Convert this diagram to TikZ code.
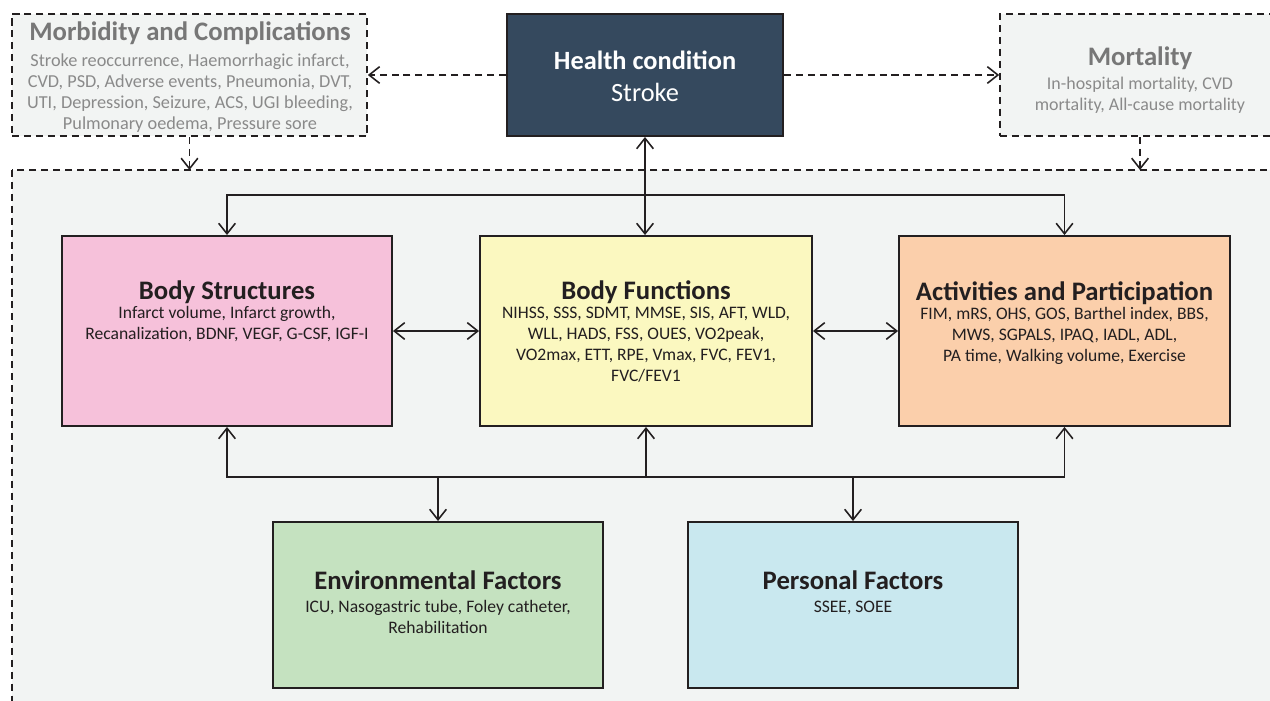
\documentclass[tikz,border=0pt]{standalone}
\usepackage{fontspec}
\setmainfont{Carlito}
\usetikzlibrary{arrows.meta}
\definecolor{panel}{HTML}{F2F4F3}
\definecolor{navy}{HTML}{35495E}
\definecolor{ink}{HTML}{231F20}
\definecolor{greyhead}{HTML}{777777}
\definecolor{greytext}{HTML}{8A8A8A}
\definecolor{pinkbox}{HTML}{F6C1DA}
\definecolor{yellowbox}{HTML}{FBF8C0}
\definecolor{orangebox}{HTML}{FBCFAB}
\definecolor{greenbox}{HTML}{C5E2C0}
\definecolor{bluebox}{HTML}{C9E8EF}
\newcommand{\boxhead}[1]{{\fontsize{15.2}{18}\selectfont\bfseries #1}}
\begin{document}
\begin{tikzpicture}[x=0.02cm, y=-0.02cm, line join=miter,
    >={Straight Barb[length=6pt, width=9.5pt]},
    panelbox/.style={draw=ink, fill=panel, line width=1pt, dash pattern=on 4pt off 2.8pt, inner sep=0pt},
    area/.style={draw=ink, line width=1.1pt, inner sep=0pt},
    link/.style={draw=ink, line width=0.9pt},
    dlink/.style={link, dash pattern=on 4pt off 2.8pt},
    txt/.style={inner sep=0pt, align=center, anchor=north, font=\fontsize{10}{11.9}\selectfont}]
  \useasboundingbox (0,0) rectangle (1270,700);
  \fill[white] (0,0) rectangle (1270,700);
  \clip (0,0) rectangle (1270,700);
  % outer frame
  \draw[panelbox] (12,170) rectangle (1290,720);
  \coordinate (frameL) at (189.5,170);
  \coordinate (frameR) at (1140,170);
  % top row
  \node[panelbox, minimum width=7.1cm, minimum height=2.44cm] (morb) at (189.5,75) {};
  \node[area, fill=navy, minimum width=5.52cm, minimum height=2.44cm] (hc) at (645,75) {};
  \node[panelbox, minimum width=5.6cm, minimum height=2.44cm] (mort) at (1140,75) {};
  \node[txt, text=greytext, font=\fontsize{10.4}{11.9}\selectfont] (morbT) at (190,21) {{\color{greyhead}\boxhead{Morbidity and Complications}}\\[3.2pt]
    Stroke reoccurrence, Haemorrhagic infarct,\\
    CVD, PSD, Adverse events, Pneumonia, DVT,\\
    UTI, Depression, Seizure, ACS, UGI bleeding,\\
    Pulmonary oedema, Pressure sore};
  \node[txt, text=white, font=\fontsize{15}{17.8}\selectfont] (hcT) at (645,51) {\textbf{Health condition}\\Stroke};
  \node[txt, text=greytext, font=\fontsize{10.2}{11.9}\selectfont] (mortT) at (1140,46) {{\color{greyhead}\boxhead{Mortality}}\\[1.8pt]
    In-hospital mortality, CVD\\
    mortality, All-cause mortality};
  % components
  \node[area, fill=pinkbox, minimum width=6.6cm, minimum height=3.8cm] (bs) at (227,331) {};
  \node[area, fill=yellowbox, minimum width=6.64cm, minimum height=3.8cm] (bf) at (646,331) {};
  \node[area, fill=orangebox, minimum width=6.62cm, minimum height=3.8cm] (ap) at (1064.5,331) {};
  \node[area, fill=greenbox, minimum width=6.6cm, minimum height=3.32cm] (env) at (438,605) {};
  \node[area, fill=bluebox, minimum width=6.6cm, minimum height=3.32cm] (pf) at (853,605) {};
  \node[txt, text=ink] (bsT) at (227,280) {\boxhead{Body Structures}\\[-1pt]
    Infarct volume, Infarct growth,\\
    Recanalization, BDNF, VEGF, G-CSF, IGF-I};
  \node[txt, text=ink] (bfT) at (646,280) {\boxhead{Body Functions}\\[-1pt]
    NIHSS, SSS, SDMT, MMSE, SIS, AFT, WLD,\\
    WLL, HADS, FSS, OUES, VO2peak,\\
    VO2max, ETT, RPE, Vmax, FVC, FEV1,\\
    FVC/FEV1};
  \node[txt, text=ink] (apT) at (1064.5,281) {\boxhead{Activities and Participation}\\[-1pt]
    FIM, mRS, OHS, GOS, Barthel index, BBS,\\
    MWS, SGPALS, IPAQ, IADL, ADL,\\
    PA time, Walking volume, Exercise};
  \node[txt, text=ink] (envT) at (438,570) {\boxhead{Environmental Factors}\\[1.5pt]
    ICU, Nasogastric tube, Foley catheter,\\
    Rehabilitation};
  \node[txt, text=ink] (pfT) at (853,570) {\boxhead{Personal Factors}\\[1.5pt]
    SSEE, SOEE};
  % dashed links
  \draw[dlink, ->] (hc.west) -- (morb.east);
  \draw[dlink, ->] (hc.east) -- (mort.west);
  \draw[dlink, ->] (morb.south) -- (frameL);
  \draw[dlink, ->] (mort.south) -- (frameR);
  % solid links
  \draw[link, <->] (hc.south) -- (hc.south |- bf.north);
  \coordinate (topbar) at (646,195);
  \draw[link, ->] (topbar) -| (bs.north);
  \draw[link, ->] (topbar) -| (ap.north);
  \draw[link, <->] (bs.east) -- (bf.west);
  \draw[link, <->] (bf.east) -- (ap.west);
  \coordinate (lowbar) at (646,477);
  \draw[link, ->] (lowbar) -- (bf.south);
  \draw[link, ->] (lowbar) -| (bs.south);
  \draw[link, ->] (lowbar) -| (ap.south);
  \draw[link, ->] (env.north |- lowbar) -- (env.north);
  \draw[link, ->] (pf.north |- lowbar) -- (pf.north);
\end{tikzpicture}
\end{document}
